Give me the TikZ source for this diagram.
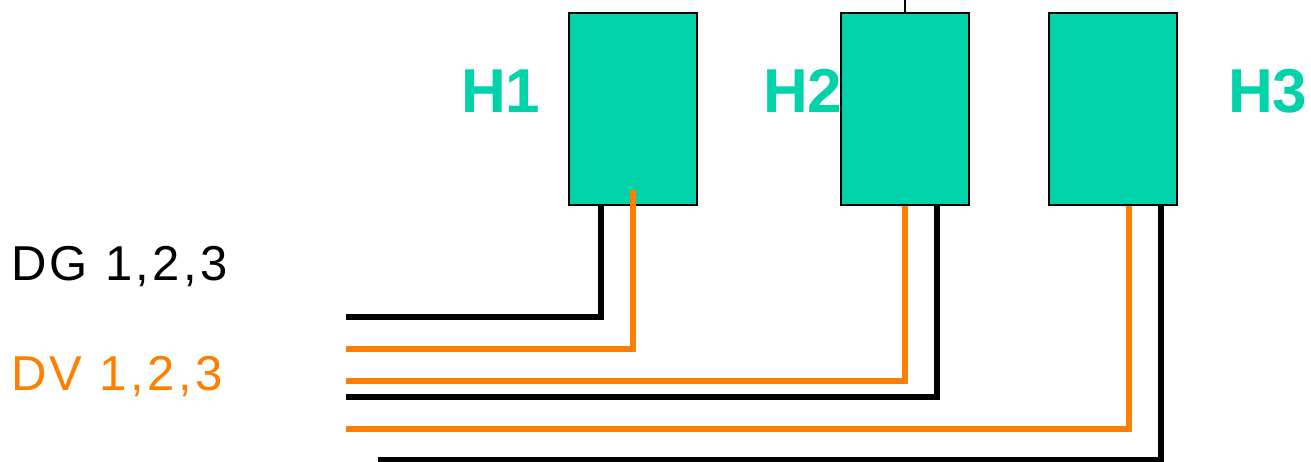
\documentclass[tikz,border=0pt]{standalone}
\usepackage{fontspec}
\setmainfont{Liberation Sans}
\newfontfamily\spacedfont[LetterSpace=7]{Liberation Sans}
\definecolor{teal}{HTML}{00D2AA}
\definecolor{orng}{HTML}{FF8000}
\tikzset{
  hbox/.style={draw=black, line width=1.4pt, fill=teal, minimum width=128pt, minimum height=192pt, inner sep=0pt},
  hlabel/.style={text=teal, font=\fontsize{62}{62}\selectfont\bfseries, inner sep=0pt, anchor=base west},
  sidelabel/.style={font=\spacedfont\fontsize{49}{49}\selectfont, inner sep=0pt, anchor=base west},
  blk/.style={draw=black, line width=5.5pt, line join=miter},
  org/.style={draw=orng, line width=5.5pt, line join=miter},
}
\begin{document}
\begin{tikzpicture}[x=1pt, y=-1pt]
\useasboundingbox (0,0) rectangle (1311,462);
% labels
\node[hlabel] (l1) at (461,113) {H1};
\node[hlabel] (l2) at (763,113) {H2};
\node[hlabel] (l3) at (1228,113) {H3};
\node[sidelabel] (dg) at (11,280) {DG 1,2,3};
\node[sidelabel, text=orng] (dv) at (11,390) {DV 1,2,3};
% boxes
\node[hbox] (h1) at (633,109) {};
\node[hbox] (h2) at (905,109) {};
\node[hbox] (h3) at (1113,109) {};
\coordinate (top) at (905,0);
\draw[line width=1.4pt] (h2.north) -- (top);
% free ends
\coordinate (e1) at (346,317);
\coordinate (e2) at (346,349);
\coordinate (e3) at (346,381);
\coordinate (e4) at (346,397);
\coordinate (e5) at (346,429);
\coordinate (e6) at (378,460);
% connectors
\draw[blk] ([xshift=-32pt]h1.south) |- (e1);
\draw[org] ([yshift=16pt]h1.south) |- (e2);
\draw[org] (h2.south) |- (e3);
\draw[blk] ([xshift=32pt]h2.south) |- (e4);
\draw[org] ([xshift=16pt]h3.south) |- (e5);
\draw[blk] ([xshift=48pt]h3.south) |- (e6);
\end{tikzpicture}
\end{document}
